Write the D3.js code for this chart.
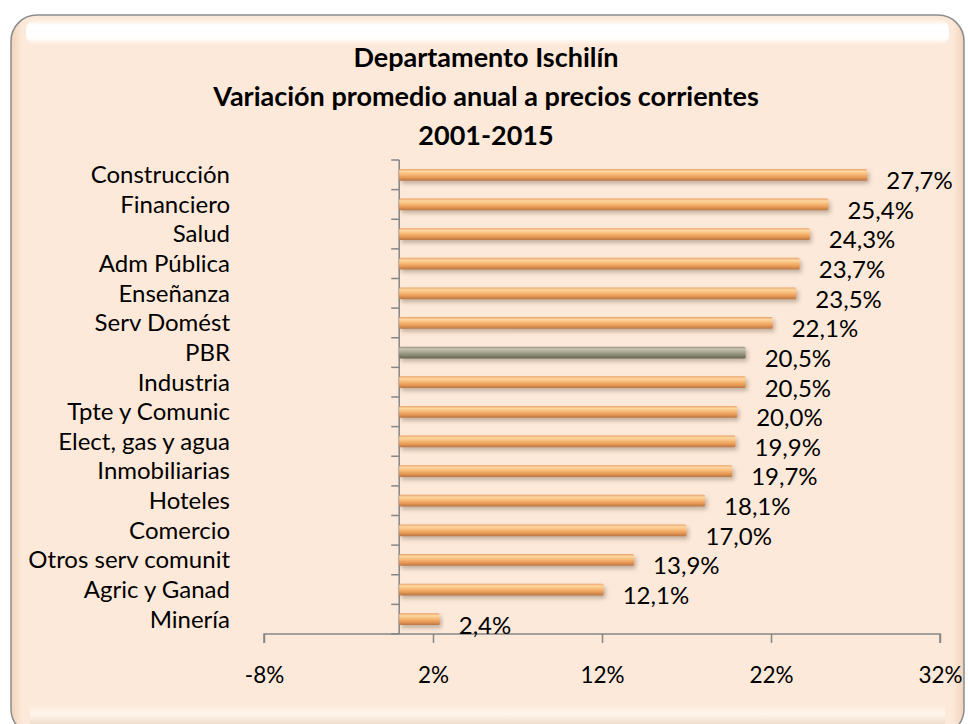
<!DOCTYPE html>
<html>
<head>
<meta charset="utf-8">
<script src="https://cdn.jsdelivr.net/npm/d3@7"></script>
<style>
  html, body { margin: 0; padding: 0; background: #ffffff; }
  svg { display: block; font-family: Lato, "Open Sans", sans-serif; }
</style>
</head>
<body>
<div class="chart"></div>
<script>
// Datos: variación promedio anual 2001-2015
const categories = ['Construcción', 'Financiero', 'Salud', 'Adm Pública', 'Enseñanza',
                    'Serv Domést', 'PBR', 'Industria', 'Tpte y Comunic', 'Elect, gas y agua',
                    'Inmobiliarias', 'Hoteles', 'Comercio', 'Otros serv comunit',
                    'Agric y Ganad', 'Minería'];
const values = [27.7, 25.4, 24.3, 23.7, 23.5, 22.1, 20.5, 20.5, 20.0, 19.9,
                19.7, 18.1, 17.0, 13.9, 12.1, 2.4];
const labels = ['27,7%', '25,4%', '24,3%', '23,7%', '23,5%', '22,1%', '20,5%', '20,5%',
                '20,0%', '19,9%', '19,7%', '18,1%', '17,0%', '13,9%', '12,1%', '2,4%'];
const xTicks = [-8, 2, 12, 22, 32];
const titleLines = ['Departamento Ischilín',
                    'Variación promedio anual a precios corrientes',
                    '2001-2015'];
const highlight = 'PBR';

const width = 968, height = 724;
const plot = { left: 264, right: 940, top: 160, bottom: 634 };

const svg = d3.select('.chart')
              .append('svg')
              .attr('width', width)
              .attr('height', height);

const defs = svg.append('defs');

// gradients
function vGrad(id, stops) {
  const g = defs.append('linearGradient')
                .attr('id', id)
                .attr('x1', 0).attr('y1', 0)
                .attr('x2', 0).attr('y2', 1);
  stops.forEach(s => g.append('stop')
                      .attr('offset', s[0])
                      .attr('stop-color', s[1])
                      .attr('stop-opacity', s[2] === undefined ? 1 : s[2]));
}
vGrad('barOrange', [[0, '#eaa066'], [0.2, '#fcd7a2'], [0.4, '#f9c17f'],
                    [0.7, '#eb9c57'], [1, '#b97644']]);
vGrad('barGrey', [[0, '#8f8c7a'], [0.2, '#c8c6b4'], [0.4, '#aeab97'],
                  [0.7, '#8d8a76'], [1, '#66634f']]);
vGrad('topShine', [[0, '#ffffff', 0.0], [0.25, '#ffffff', 1], [0.75, '#ffffff', 0.95],
                   [1, '#ffffff', 0]]);
vGrad('bottomShine', [[0, '#fff3e6', 0], [0.5, '#fff6ec', 1], [1, '#f1dccb', 1]]);

const hGrad = defs.append('linearGradient').attr('id', 'sideShade')
                  .attr('x1', 0).attr('y1', 0).attr('x2', 1).attr('y2', 0);
hGrad.append('stop').attr('offset', 0).attr('stop-color', '#efd3bb');
hGrad.append('stop').attr('offset', 0.012).attr('stop-color', '#fde9d9');
hGrad.append('stop').attr('offset', 0.988).attr('stop-color', '#fde9d9');
hGrad.append('stop').attr('offset', 1).attr('stop-color', '#efd3bb');

const shadow = defs.append('filter').attr('id', 'shadow')
                   .attr('x', '-5%').attr('y', '-50%')
                   .attr('width', '115%').attr('height', '250%');
shadow.append('feDropShadow')
      .attr('dx', 2).attr('dy', 3)
      .attr('stdDeviation', 2)
      .attr('flood-color', '#7a6a5a')
      .attr('flood-opacity', 0.45);

// frame
svg.append('rect')
   .attr('x', 11).attr('y', 15)
   .attr('width', 953).attr('height', 720)
   .attr('rx', 26).attr('ry', 26)
   .attr('fill', 'url(#sideShade)')
   .attr('stroke', '#8c8c8c')
   .attr('stroke-width', 1.5);

svg.append('rect')
   .attr('x', 26).attr('y', 19)
   .attr('width', 923).attr('height', 26)
   .attr('rx', 10)
   .attr('fill', 'url(#topShine)');

svg.append('rect')
   .attr('x', 30).attr('y', 704)
   .attr('width', 915).attr('height', 20)
   .attr('fill', 'url(#bottomShine)');

// title
svg.append('g')
   .attr('class', 'title')
   .selectAll('text')
   .data(titleLines)
   .join('text')
   .attr('x', 486)
   .attr('y', (d, i) => 67 + i * 39)
   .attr('text-anchor', 'middle')
   .attr('font-size', 27)
   .attr('font-weight', 'bold')
   .attr('fill', '#000')
   .text(d => d);

// scales
const xScale = d3.scaleLinear()
                 .domain([xTicks[0], xTicks[xTicks.length - 1]])
                 .range([plot.left, plot.right]);
const yScale = d3.scaleBand()
                 .domain(categories)
                 .range([plot.top, plot.bottom])
                 .paddingInner(0.6)
                 .paddingOuter(0.3);

const axisColor = '#868686';

// x axis
const xAxis = d3.axisBottom(xScale)
                .tickValues(xTicks)
                .tickSize(9)
                .tickPadding(24)
                .tickFormat(d => d + '%');

const gx = svg.append('g')
              .attr('class', 'axis x-axis')
              .attr('transform', `translate(0,${plot.bottom})`)
              .call(xAxis);
gx.select('.domain').attr('stroke', axisColor).attr('stroke-width', 1.5)
  .attr('d', `M${plot.left},9V0H${plot.right}V9`);
gx.selectAll('.tick line').attr('stroke', axisColor).attr('stroke-width', 1.5);
gx.selectAll('.tick text')
  .attr('font-size', 22.5)
  .attr('font-family', 'Lato, sans-serif')
  .attr('fill', '#000');

// y axis at zero, ticks between categories
const x0 = xScale(0);
const step = yScale.step();
const yTickPos = d3.range(categories.length + 1)
                   .map(i => plot.top + i * step);
const gy = svg.append('g').attr('class', 'axis y-axis');
gy.append('line')
  .attr('x1', x0).attr('x2', x0)
  .attr('y1', plot.top).attr('y2', plot.bottom)
  .attr('stroke', axisColor).attr('stroke-width', 1.5);
gy.selectAll('.ytick')
  .data(yTickPos)
  .join('line')
  .attr('class', 'ytick')
  .attr('x1', x0 - 8).attr('x2', x0)
  .attr('y1', d => d).attr('y2', d => d)
  .attr('stroke', axisColor).attr('stroke-width', 1.5);

// category labels
svg.append('g')
   .attr('class', 'cat-labels')
   .selectAll('text')
   .data(categories)
   .join('text')
   .attr('x', 230)
   .attr('y', d => yScale(d) + yScale.bandwidth() / 2)
   .attr('dy', '0.35em')
   .attr('text-anchor', 'end')
   .attr('font-size', 24)
   .attr('fill', '#000')
   .text(d => d);

// bars
svg.append('g')
   .attr('class', 'bars')
   .selectAll('rect')
   .data(categories)
   .join('rect')
   .attr('x', x0)
   .attr('y', d => yScale(d))
   .attr('width', (d, i) => xScale(values[i]) - x0)
   .attr('height', yScale.bandwidth())
   .attr('rx', 1.5)
   .attr('fill', d => d === highlight ? 'url(#barGrey)' : 'url(#barOrange)')
   .attr('filter', 'url(#shadow)');

// value labels
svg.append('g')
   .attr('class', 'value-labels')
   .selectAll('text')
   .data(categories)
   .join('text')
   .attr('x', (d, i) => xScale(values[i]) + 19)
   .attr('y', d => yScale(d) + yScale.bandwidth() / 2 + 6)
   .attr('dy', '0.35em')
   .attr('font-size', 24)
   .attr('fill', '#000')
   .text((d, i) => labels[i]);
</script>
</body>
</html>
